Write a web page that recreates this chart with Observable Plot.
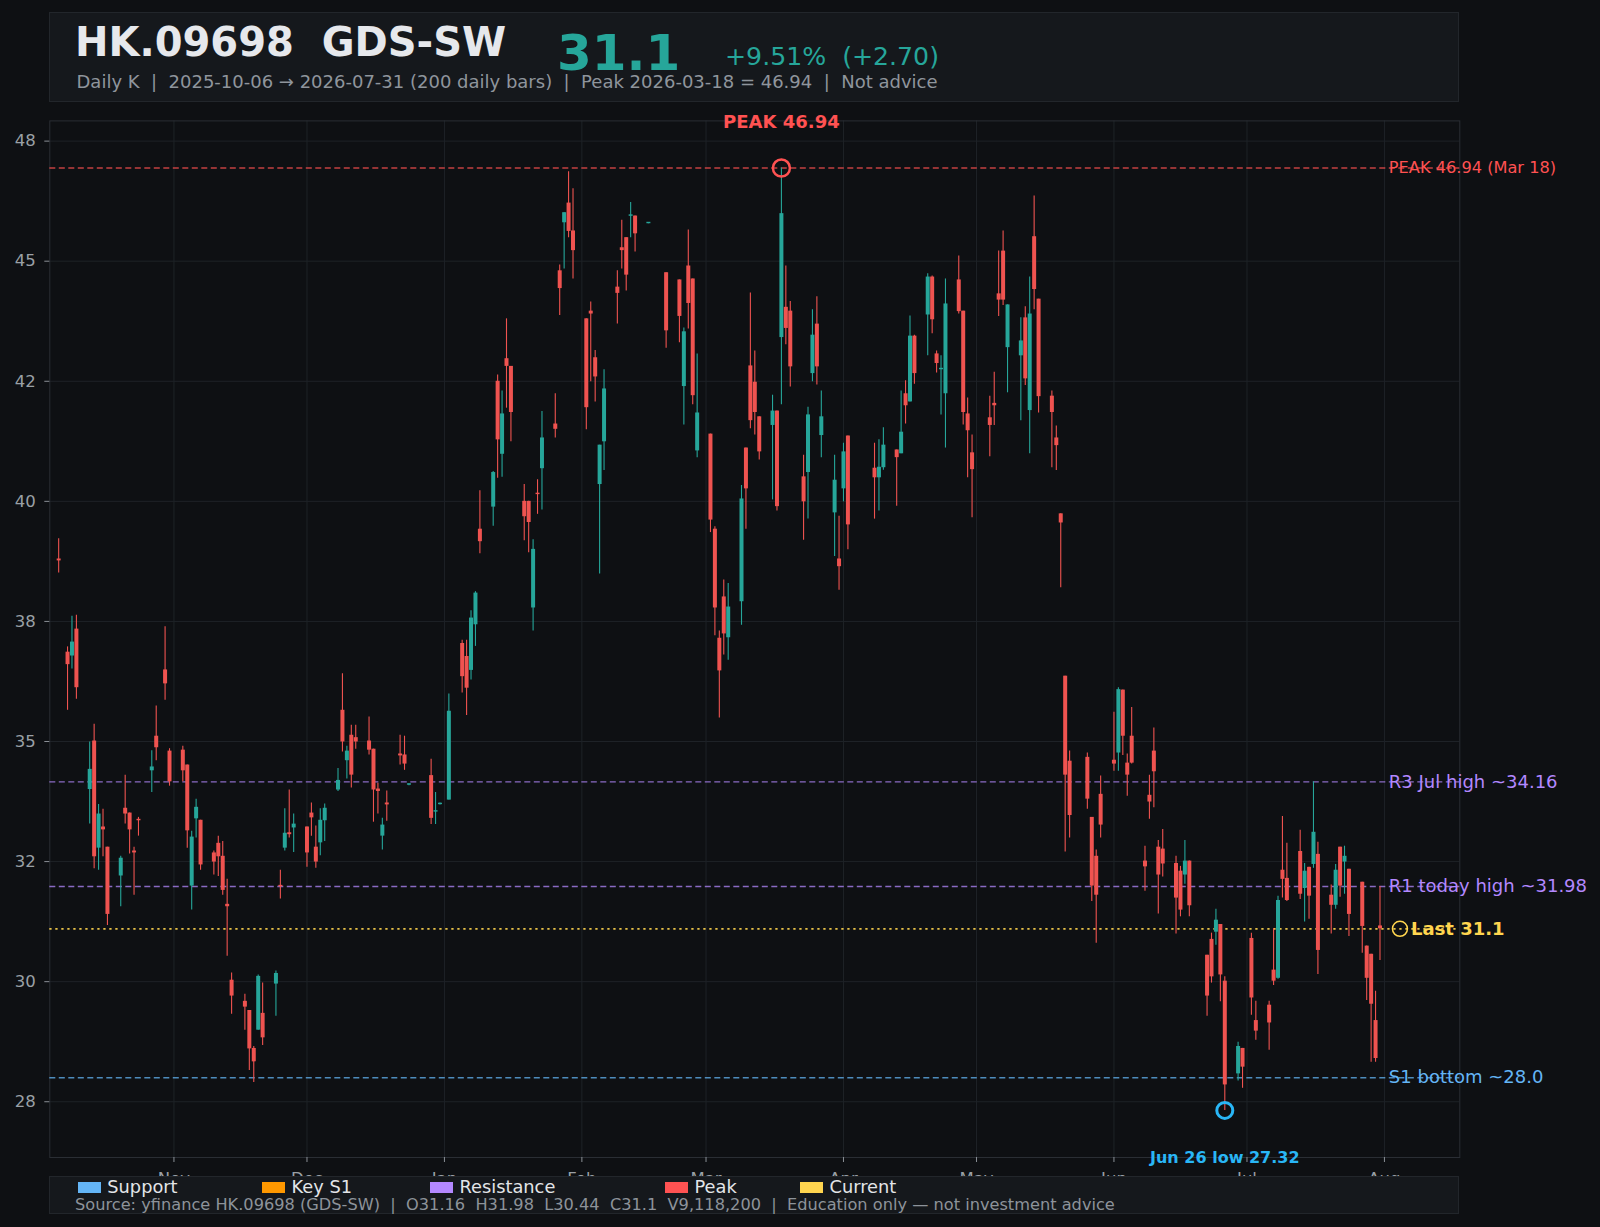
<!DOCTYPE html>
<html><head><meta charset="utf-8">
<script src="https://cdn.jsdelivr.net/npm/d3@7"></script>
<script src="https://cdn.jsdelivr.net/npm/@observablehq/plot@0.6"></script>
<style>
html,body{margin:0;padding:0;background:#0e1013;overflow:hidden;}
#wrap{position:relative;width:1600px;height:1227px;font-family:"DejaVu Sans",sans-serif;}
.box{position:absolute;background:#15181c;border:1px solid #22262b;box-sizing:border-box;}
.t{position:absolute;line-height:0;white-space:pre;font-family:"DejaVu Sans",sans-serif;}
.sw{position:absolute;}
#chart{position:absolute;left:0;top:0;}
</style></head><body><div id="wrap"><div id="chart"></div></div>
<script>
// ---------- DATA ----------
const dates = [
"2025-10-06","2025-10-08","2025-10-09","2025-10-10","2025-10-13","2025-10-14","2025-10-15","2025-10-16","2025-10-17","2025-10-20",
"2025-10-21","2025-10-22","2025-10-23","2025-10-24","2025-10-27","2025-10-28","2025-10-30","2025-10-31",
"2025-11-03","2025-11-04","2025-11-05","2025-11-06","2025-11-07","2025-11-10","2025-11-11","2025-11-12","2025-11-13","2025-11-14",
"2025-11-17","2025-11-18","2025-11-19","2025-11-20","2025-11-21","2025-11-24","2025-11-25","2025-11-26","2025-11-27","2025-11-28",
"2025-12-01","2025-12-02","2025-12-03","2025-12-04","2025-12-05","2025-12-08","2025-12-09","2025-12-10","2025-12-11","2025-12-12",
"2025-12-15","2025-12-16","2025-12-17","2025-12-18","2025-12-19","2025-12-22","2025-12-23","2025-12-24","2025-12-29","2025-12-30","2025-12-31",
"2026-01-02","2026-01-05","2026-01-06","2026-01-07","2026-01-08","2026-01-09","2026-01-12","2026-01-13","2026-01-14","2026-01-15","2026-01-16",
"2026-01-19","2026-01-20","2026-01-21","2026-01-22","2026-01-23","2026-01-26","2026-01-27","2026-01-28","2026-01-29","2026-01-30",
"2026-02-02","2026-02-03","2026-02-04","2026-02-05","2026-02-06","2026-02-09","2026-02-10","2026-02-11","2026-02-12","2026-02-13",
"2026-02-16","2026-02-20","2026-02-23","2026-02-24","2026-02-25","2026-02-26","2026-02-27",
"2026-03-02","2026-03-03","2026-03-04","2026-03-05","2026-03-06","2026-03-09","2026-03-10","2026-03-11","2026-03-12","2026-03-13",
"2026-03-16","2026-03-17","2026-03-18","2026-03-19","2026-03-20","2026-03-23","2026-03-24","2026-03-25","2026-03-26","2026-03-27","2026-03-30","2026-03-31",
"2026-04-01","2026-04-02","2026-04-08","2026-04-09","2026-04-10","2026-04-13","2026-04-14","2026-04-15","2026-04-16","2026-04-17",
"2026-04-20","2026-04-21","2026-04-22","2026-04-23","2026-04-24","2026-04-27","2026-04-28","2026-04-29","2026-04-30",
"2026-05-04","2026-05-05","2026-05-06","2026-05-07","2026-05-08","2026-05-11","2026-05-12","2026-05-13","2026-05-14","2026-05-15",
"2026-05-18","2026-05-19","2026-05-20","2026-05-21","2026-05-22","2026-05-26","2026-05-27","2026-05-28","2026-05-29",
"2026-06-01","2026-06-02","2026-06-03","2026-06-04","2026-06-05","2026-06-08","2026-06-09","2026-06-10","2026-06-11","2026-06-12",
"2026-06-15","2026-06-16","2026-06-17","2026-06-18","2026-06-22","2026-06-23","2026-06-24","2026-06-25","2026-06-26","2026-06-29","2026-06-30",
"2026-07-02","2026-07-03","2026-07-06","2026-07-07","2026-07-08","2026-07-09","2026-07-10","2026-07-13","2026-07-14","2026-07-15",
"2026-07-16","2026-07-17","2026-07-20","2026-07-21","2026-07-22","2026-07-23","2026-07-24","2026-07-27","2026-07-28","2026-07-29","2026-07-30","2026-07-31"
];
const open = [
38.80,36.86,36.78,37.34,34.00,35.01,32.78,33.22,32.80,32.20,33.61,33.51,32.72,33.38,34.39,35.11,36.49,34.80,
34.82,34.51,31.99,33.39,33.36,32.68,32.88,32.61,31.61,30.03,29.59,29.40,28.61,28.99,29.34,29.95,32.00,32.78,33.10,33.20,
33.22,33.51,32.80,32.89,33.35,33.99,35.65,34.60,35.13,35.08,35.01,34.84,34.01,33.03,33.72,34.74,34.72,34.10,34.29,33.53,33.69,
33.78,37.04,36.77,36.48,37.43,39.42,39.88,42.50,40.98,42.97,42.81,40.00,40.00,37.78,40.17,40.68,41.61,44.80,45.80,46.21,45.63,
43.80,43.96,42.99,40.35,41.24,44.46,45.28,45.49,45.94,45.94,45.79,44.76,44.61,42.39,44.90,44.63,41.05,
41.40,39.42,37.15,38.01,37.16,37.91,41.11,42.82,42.48,41.76,41.58,41.88,43.41,44.04,43.96,40.51,40.60,42.66,43.69,41.37,39.76,38.80,
40.26,41.36,40.69,40.49,40.70,41.07,40.99,42.24,42.07,43.44,43.88,44.67,43.07,42.74,42.24,44.61,43.96,41.82,41.01,
41.74,42.04,44.32,45.21,43.20,43.03,43.82,41.89,45.51,44.21,42.19,41.32,39.74,36.36,34.59,34.67,33.42,32.61,33.90,
34.61,34.76,36.07,34.55,35.11,32.51,33.88,34.80,32.80,32.76,32.46,32.30,32.22,32.51,30.55,30.88,31.03,31.19,30.01,28.08,28.61,
30.90,29.19,29.51,30.24,30.07,32.32,32.15,32.71,31.94,32.38,32.44,32.65,31.80,31.59,32.80,32.49,32.34,32.07,30.74,30.57,29.19,31.16
];
const high = [
39.22,36.97,37.61,37.63,34.99,35.36,33.69,33.59,32.80,32.61,34.30,33.51,32.80,33.42,34.81,35.74,37.39,34.85,
34.90,34.51,33.13,33.80,33.36,32.72,33.03,32.92,32.13,30.18,29.74,29.40,28.65,30.14,29.97,30.22,32.32,33.60,33.99,33.49,
33.22,33.72,33.24,33.60,33.70,34.44,36.41,34.90,35.34,35.34,35.51,34.84,34.13,33.40,33.97,35.13,35.11,34.12,34.63,33.94,33.72,
35.99,37.11,37.11,37.72,38.12,40.22,40.62,42.63,42.30,43.80,42.81,40.35,40.00,39.20,40.45,41.87,42.24,44.92,46.01,46.86,46.51,
43.80,44.15,43.14,41.17,42.74,44.80,45.85,45.49,46.22,45.94,45.80,44.76,44.61,43.61,45.65,44.63,43.07,
41.40,39.47,37.30,38.36,38.29,40.33,41.11,44.34,43.13,41.76,42.21,41.88,46.94,44.90,44.16,40.96,41.96,43.99,44.26,42.30,40.96,39.69,
41.21,41.36,41.21,41.28,41.53,41.07,42.30,42.51,43.86,43.46,44.74,44.69,43.13,43.03,44.63,45.11,43.96,42.15,41.38,
42.19,42.69,45.21,45.63,44.09,43.82,44.05,44.67,46.36,44.21,42.30,41.57,39.74,36.36,34.80,34.76,33.42,32.74,34.28,
35.61,36.12,36.07,34.74,35.71,32.82,34.30,35.28,32.94,33.17,32.61,32.40,32.94,32.51,30.55,31.01,31.51,31.19,30.10,28.74,28.61,
31.01,29.59,29.59,31.10,31.78,33.44,32.88,33.15,32.46,32.38,34.16,32.90,32.01,32.44,32.80,32.82,32.34,32.07,30.74,30.57,29.80,31.98
];
const low = [
38.51,35.65,36.51,35.88,33.28,32.35,32.32,32.60,31.17,31.56,33.28,32.66,31.80,33.03,33.94,34.60,35.86,34.07,
34.16,32.78,31.49,32.99,32.32,32.22,32.19,31.80,30.53,29.32,28.99,28.15,27.90,28.99,28.67,29.28,31.72,32.72,32.99,32.69,
32.38,33.03,32.36,32.62,32.92,33.96,34.78,34.22,34.03,34.84,34.72,33.32,33.49,32.74,33.34,34.51,34.40,34.08,33.27,33.27,33.68,
33.78,36.01,35.54,36.28,36.98,38.91,39.48,40.48,40.50,41.94,41.24,39.18,38.93,37.30,39.73,39.82,41.32,43.87,44.84,45.49,44.63,
41.49,42.49,42.07,38.49,40.64,43.69,44.84,44.38,45.49,45.19,45.78,43.19,43.30,41.59,43.59,42.01,40.91,
39.35,37.20,35.49,36.80,36.69,37.42,39.42,41.51,41.38,40.86,40.03,39.80,42.01,43.26,42.38,39.19,39.63,42.49,42.42,40.91,38.85,38.15,
39.99,38.99,39.63,39.80,40.65,39.90,40.99,41.61,42.07,42.44,43.03,43.49,42.67,41.80,41.11,43.90,41.59,40.49,39.66,
40.93,41.58,43.85,44.08,42.26,41.68,42.41,40.99,43.99,41.84,40.70,40.64,38.20,32.70,32.99,33.59,31.67,30.80,32.99,
34.38,34.38,34.71,33.86,34.53,31.88,33.38,33.62,31.41,32.18,30.99,31.35,32.03,31.35,29.28,29.97,30.76,29.58,27.32,27.93,27.78,
29.30,28.78,28.57,29.92,30.05,31.74,31.67,31.71,31.24,31.30,32.36,30.15,30.99,31.51,31.76,31.82,30.94,30.59,29.61,28.32,28.32,30.44
];
const close = [
38.76,36.60,37.07,36.12,34.42,32.60,33.49,33.16,31.40,32.57,33.49,33.16,32.68,33.35,34.47,34.87,36.20,34.16,
34.39,33.14,33.01,33.63,32.43,32.49,32.60,31.90,31.56,29.70,29.47,28.60,28.33,30.11,28.83,30.17,31.98,33.09,33.06,33.28,
32.68,33.41,32.49,33.36,33.61,34.19,34.99,34.80,34.30,34.99,34.82,33.99,33.96,33.26,33.68,34.70,34.53,34.11,33.40,33.56,33.71,
35.63,36.35,36.11,37.57,38.09,39.16,40.60,41.28,41.82,42.81,41.85,39.68,39.56,39.00,40.14,41.32,41.50,44.43,46.01,45.62,45.22,
41.95,43.90,42.59,41.17,42.34,44.33,45.22,44.71,45.96,45.57,45.80,43.55,43.85,43.53,44.12,42.20,41.84,
39.61,37.78,36.47,37.24,37.80,40.05,40.26,41.68,41.85,41.03,41.88,39.89,45.99,43.60,42.80,39.99,41.80,43.46,42.80,41.76,40.44,38.64,
41.03,39.51,40.49,40.71,41.17,40.91,41.44,41.99,43.44,42.66,44.67,43.78,42.87,42.77,44.11,43.95,41.85,41.47,40.66,
41.58,41.99,44.19,44.19,44.09,43.34,42.55,43.90,44.41,42.18,41.85,41.16,39.55,34.30,33.46,33.80,31.99,31.80,33.26,
34.53,36.08,35.11,34.30,34.55,32.39,33.74,34.37,32.22,32.45,31.74,31.49,32.51,31.58,29.70,30.10,31.28,30.14,27.85,28.65,28.22,
29.66,28.97,29.14,30.01,31.69,32.13,31.69,31.82,32.30,31.78,33.11,30.65,31.59,32.32,31.99,32.61,31.40,31.15,30.07,29.53,28.40,31.10
];

const yTicks = [27.5, 30, 32.5, 35, 37.5, 40, 42.5, 45, 47.5];
const yTickLabels = ["28","30","32","35","38","40","42","45","48"];
const monthTicks = ["2025-11-01","2025-12-01","2026-01-01","2026-02-01","2026-03-01","2026-04-01","2026-05-01","2026-06-01","2026-07-01","2026-08-01"];
const monthLabels = ["Nov","Dec","Jan","Feb","Mar","Apr","May","Jun","Jul","Aug"];

const levelValues = [46.94, 34.16, 31.98, 28.0];
const levelLabels = ["PEAK 46.94 (Mar 18)", "R3 Jul high ~34.16", "R1 today high ~31.98", "S1 bottom ~28.0"];
const levelColors = ["#ff5252", "#b388ff", "#b388ff", "#64b5f6"];
const lastPrice = 31.1;
const peak = {date: "2026-03-18", value: 46.94, label: "PEAK 46.94"};
const trough = {date: "2026-06-26", value: 27.32, label: "Jun 26 low 27.32"};

const legendNames = ["Support", "Key S1", "Resistance", "Peak", "Current"];
const legendColors = ["#64b5f6", "#ff9800", "#b388ff", "#ff5252", "#ffd54f"];

// ---------- BUILD ----------
const teal = "#26a69a", red = "#ef5350";
const rows = dates.map((d, i) => {
  const o = open[i], c = close[i];
  let lo = Math.min(o, c), hi = Math.max(o, c);
  if (hi - lo < 0.03) { const m = (o + c) / 2; lo = m - 0.015; hi = m + 0.015; }
  return {date: new Date(d), o, h: high[i], l: low[i], c, lo, hi, col: c >= o ? teal : red};
});
const yLabelMap = new Map(yTicks.map((v, i) => [v, yTickLabels[i]]));
const monthDates = monthTicks.map(d => new Date(d));
const monthMap = new Map(monthDates.map((d, i) => [+d, monthLabels[i]]));
const lastDate = new Date(dates[dates.length - 1]);
const dayOff = n => new Date(+lastDate + n * 864e5);
const levelRows = levelValues.map((v, i) => ({x: dayOff(2), y: v, t: levelLabels[i], col: levelColors[i]}));

const chart = Plot.plot({
  width: 1600, height: 1190,
  marginLeft: 49.3, marginRight: 140.7, marginTop: 120.4, marginBottom: 33,
  style: {background: "transparent", fontFamily: "DejaVu Sans", fontSize: "16.5px", color: "#9aa0a6"},
  color: {type: "identity"},
  x: {type: "utc", domain: [new Date("2025-10-04"), new Date("2026-08-18")], label: null},
  y: {domain: [26.339, 47.921], label: null},
  marks: [
    Plot.gridY(yTicks, {stroke: "#1e2227", strokeOpacity: 1}),
    Plot.gridX(monthDates, {stroke: "#1e2227", strokeOpacity: 1}),
    Plot.frame({stroke: "#2a2e34"}),
    Plot.axisY(yTicks, {tickFormat: () => "", tickSize: 5, stroke: "#8a8f96", label: null}),
    Plot.text(yTicks, {y: d => d, text: d => yLabelMap.get(d), frameAnchor: "left", dx: -14, textAnchor: "end", fill: "#9aa0a6", fontSize: 16.5}),
    Plot.axisX(monthDates, {tickFormat: d => monthMap.get(+d), tickSize: 5, tickPadding: 9.5, stroke: "#8a8f96", fill: "#9aa0a6", label: null, fontSize: 16.5}),
    Plot.ruleY([levelValues[0]], {stroke: levelColors[0], strokeOpacity: 0.75, strokeWidth: 1.4, strokeDasharray: "6,3.5"}),
    Plot.ruleY(levelValues.slice(1, 3), {stroke: levelColors[1], strokeOpacity: 0.75, strokeWidth: 1.4, strokeDasharray: "6,3.5"}),
    Plot.ruleY([levelValues[3]], {stroke: levelColors[3], strokeOpacity: 0.75, strokeWidth: 1.4, strokeDasharray: "6,3.5"}),
    Plot.ruleY([lastPrice], {stroke: "#ffd54f", strokeOpacity: 0.9, strokeWidth: 1.6, strokeDasharray: "2.3,3.7"}),
    Plot.ruleX(rows, {x: "date", y1: "l", y2: "h", stroke: "col", strokeWidth: 1.1}),
    Plot.ruleX(rows, {x: "date", y1: "lo", y2: "hi", stroke: "col", strokeWidth: 4}),
    Plot.dot([peak], {x: d => new Date(d.date), y: "value", r: 8.5, stroke: "#ff5252", strokeWidth: 2.5, fill: "none"}),
    Plot.dot([trough], {x: d => new Date(d.date), y: "value", r: 8, stroke: "#29b6f6", strokeWidth: 3, fill: "none"}),
    Plot.dot([lastPrice], {x: () => dayOff(4.5), y: d => d, r: 7.5, stroke: "#ffd54f", strokeWidth: 1.5, fill: "none"}),
    Plot.text([peak], {x: d => new Date(d.date), y: () => 47.89, text: "label", fill: "#ff5252", fontWeight: "bold", fontSize: 18}),
    Plot.text([trough], {x: d => new Date(d.date), y: () => 26.34, text: "label", fill: "#29b6f6", fontWeight: "bold", fontSize: 16}),
    Plot.text(levelRows.slice(0, 1), {x: "x", y: "y", text: "t", fill: "col", textAnchor: "start", fontSize: 16.2}),
    Plot.text(levelRows.slice(1), {x: "x", y: "y", text: "t", fill: "col", textAnchor: "start", fontSize: 18}),
    Plot.text([lastPrice], {x: () => dayOff(7), y: d => d, text: d => "Last " + d, fill: "#ffd54f", fontWeight: "bold", textAnchor: "start", fontSize: 18})
  ]
});
document.getElementById("chart").appendChild(chart);

// ---------- HTML header / legend ----------
const wrap = document.getElementById("wrap");
function box(l, t, w, h) { const b = document.createElement("div"); b.className = "box"; Object.assign(b.style, {left: l + "px", top: t + "px", width: w + "px", height: h + "px"}); wrap.appendChild(b); }
function txt(s, l, base, size, color, weight) {
  const e = document.createElement("div"); e.className = "t"; e.textContent = s;
  Object.assign(e.style, {left: l + "px", top: (base - 0.346 * size) + "px", fontSize: size + "px", color, fontWeight: weight || "normal"});
  wrap.appendChild(e);
}
box(49, 12, 1410, 90);
txt("HK.09698  GDS-SW", 75, 55.7, 40, "#e6e8ec", "bold");
txt(String(lastPrice), 557, 70.7, 50, teal, "bold");
txt("+9.51%  (+2.70)", 725, 65.8, 25.2, teal);
txt("Daily K  |  2025-10-06 \u2192 2026-07-31 (200 daily bars)  |  Peak 2026-03-18 = 46.94  |  Not advice", 76.5, 88.7, 18, "#8f959c");

box(49, 1176, 1410, 38);
const swX = [77.8, 262, 430, 665, 800];
legendNames.forEach((n, i) => {
  const s = document.createElement("div"); s.className = "sw";
  Object.assign(s.style, {left: swX[i] + "px", top: "1182px", width: "23px", height: "11px", background: legendColors[i]});
  wrap.appendChild(s);
  txt(n, swX[i] + 29.5, 1193.3, 17.8, "#e3e5e8");
});
txt("Source: yfinance HK.09698 (GDS-SW)  |  O31.16  H31.98  L30.44  C31.1  V9,118,200  |  Education only \u2014 not investment advice", 75, 1211, 16.2, "#8d939a");
</script></body></html>
